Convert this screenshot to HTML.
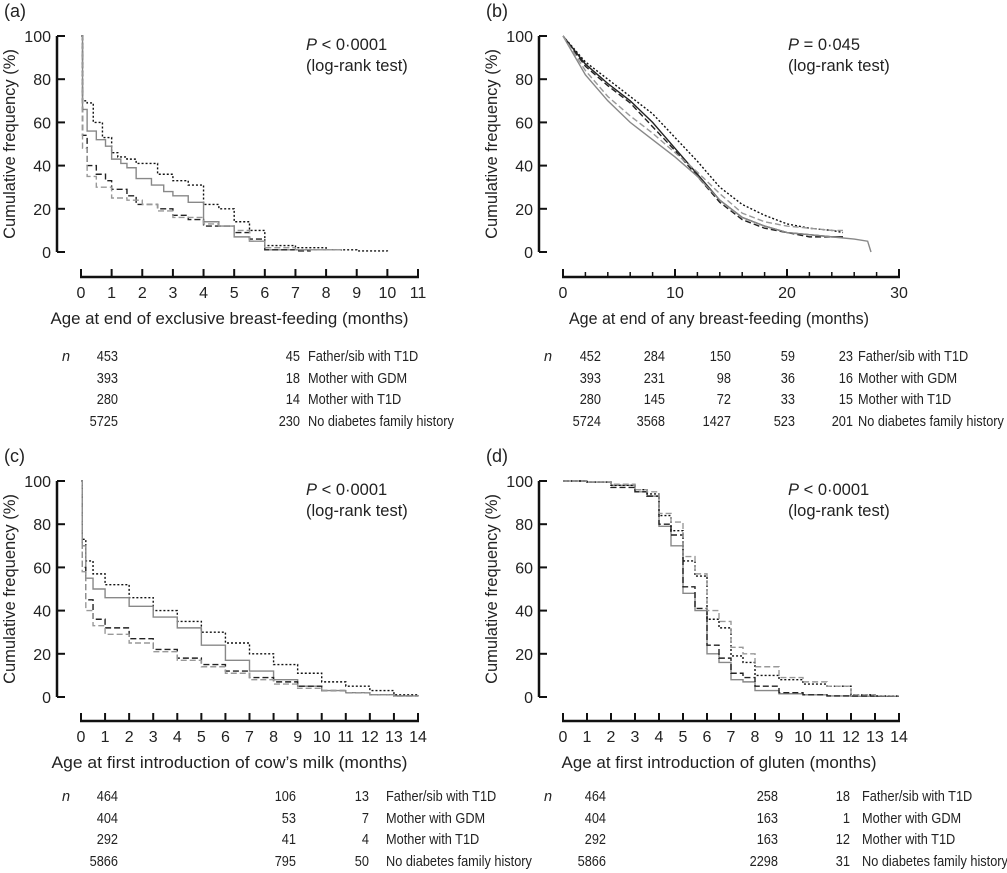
<!DOCTYPE html>
<html><head><meta charset="utf-8"><style>
body{margin:0;background:#fff;}
svg{display:block;font-family:"Liberation Sans",sans-serif;fill:#222;}
</style></head><body>
<svg id="chart" width="1007" height="873" viewBox="0 0 1007 873" xmlns="http://www.w3.org/2000/svg"></svg>
<script>
// ---- data ----
const panelLetters = ["(a)","(b)","(c)","(d)"];
const xTitles = ["Age at end of exclusive breast-feeding (months)","Age at end of any breast-feeding (months)","Age at first introduction of cow\u2019s milk (months)","Age at first introduction of gluten (months)"];
const xMax = [11,30,14,14];
const xTickLabelsA = [0,1,2,3,4,5,6,7,8,9,10,11];
const xTickLabelsB = [0,10,20,30];
const xTickLabelsCD = [0,1,2,3,4,5,6,7,8,9,10,11,12,13,14];
const yTicks = [0,20,40,60,80,100];
const pTexts = ["< 0\u00b70001","= 0\u00b7045","< 0\u00b70001","< 0\u00b70001"];
const groupNames = ["Father/sib with T1D","Mother with GDM","Mother with T1D","No diabetes family history"];
const riskA = [[453,45],[393,18],[280,14],[5725,230]];
const riskB = [[452,284,150,59,23],[393,231,98,36,16],[280,145,72,33,15],[5724,3568,1427,523,201]];
const riskC = [[464,106,13],[404,53,7],[292,41,4],[5866,795,50]];
const riskD = [[464,258,18],[404,163,1],[292,163,12],[5866,2298,31]];
// step series: times, values (panel a)
const aDottedT=[0,0.05,0.2,0.4,0.7,1.0,1.2,1.5,1.8,2.5,3.0,3.5,4.0,4.5,5.0,5.5,6.0,7,8,9,10];
const aDottedV=[100,70,69,60,53,46,44,43,41,36,33,31,22,20,14,10,3,2,1,0.5,0.3];
const aSolidT=[0,0.05,0.2,0.5,0.8,1.0,1.3,1.5,1.8,2.3,2.7,3,3.5,4,4.5,5,5.5,6,8.5];
const aSolidV=[100,66,56,52,49,43,41,39,34,31,28,26,23,14,12,7,5,1,0.5];
const aDashBT=[0,0.05,0.2,0.5,0.8,1.0,1.5,1.8,2.5,3,3.5,4,5,5.5,6,7];
const aDashBV=[100,54,40,36,33,29,26,22,20,17,15,12,9,6,1,0.5];
const aDashGT=[0,0.05,0.2,0.5,1,1.5,2,2.5,3,4,4.5,5,5.5,6,7,8.5];
const aDashGV=[100,48,35,30,25,24,22,19,16,13,12,10,5,2,1,0.5];
// panel b (curves)
const bDottedT=[0,2,4,6,8,10,12,14,16,18,20,22,24,25];
const bDottedV=[100,88,80,72,64,53,42,30,22,17,13,11,10,9];
const bSolidBT=[0,2,4,6,8,10,12,14,16,18,20,22,24,25];
const bSolidBV=[100,87,78,70,60,48,36,24,16,12,9,8,7,7];
const bDashBT=[0,2,4,6,8,10,12,14,16,18,20,22,24];
const bDashBV=[100,86,77,69,58,47,35,23,15,11,9,7,7];
const bSolidGT=[0,2,4,6,8,10,12,14,16,18,20,22,24,26,27.2,27.5];
const bSolidGV=[100,82,70,60,52,44,35,24,16,12,9,8,7,6,5,0];
const bDashGT=[0,2,4,6,8,10,12,14,16,18,20,22,24,25];
const bDashGV=[100,84,72,63,55,46,37,27,18,14,12,11,10,10];
// panel c
const cT=[0,0.05,0.2,0.5,1,2,3,4,5,6,7,8,9,10,11,12,13,14];
const cDottedV=[100,73,63,57,52,46,40,35,30,25,20,15,11,7,5,3,1,0.5];
const cSolidV=[100,70,55,50,46,42,37,32,24,17,12,8,5,3,2,1,0.5,0.3];
const cDashBV=[100,60,45,36,32,27,22,18,15,12,9,7,5,3,2,1,0.5,0.3];
const cDashGV=[100,58,40,33,29,25,21,17,14,11,8,6,4,3,2,1,0.5,0.3];
// panel d
const dT=[0,1,2,3,3.5,4,4.5,5,5.5,6,6.5,7,7.5,8,9,10,11,12,13,14];
const dSolidV=[100,99.5,98,95,93,79,70,48,40,20,16,8,7,3,1.5,1,0.5,0.3,0.3,0.3];
const dDashBV=[100,99.5,97,95,93,80,75,51,41,24,18,11,9,5,2,1,0.5,0.5,0.3,0.3];
const dDottedV=[100,99.5,98,96,94,84,77,63,56,36,32,19,16,10,8,6,5,1,0.5,0.5];
const dDashGV=[100,99.5,98.5,96,95,85,81,65,57,40,35,23,20,14,9,7,5,1,0.5,0.5];

// ---- drawing ----
const NS="http://www.w3.org/2000/svg";
const svg=document.getElementById('chart');
function el(tag,attrs,parent){const e=document.createElementNS(NS,tag);for(const k in attrs)e.setAttribute(k,attrs[k]);(parent||svg).appendChild(e);return e;}
function txt(str,x,y,size,anchor,parent,extra){const t=el('text',Object.assign({x:x,y:y,'font-size':size,'text-anchor':anchor||'start'},extra||{}),parent);t.textContent=str;return t;}
const styles={
 dotted:{stroke:'#111','stroke-dasharray':'2,2','stroke-width':1.4},
 solidB:{stroke:'#222','stroke-width':1.4},
 solidG:{stroke:'#888','stroke-width':1.4},
 dashB:{stroke:'#222','stroke-dasharray':'6,3','stroke-width':1.4},
 dashG:{stroke:'#999','stroke-dasharray':'6,3','stroke-width':1.4}
};
const layouts=[
 {ax:57,x0:81,x1:418,y100:36,y0:252,xl:277,ox:0,oy:0,ty:0},
 {ax:539,x0:563,x1:899,y100:36,y0:252,xl:277,ox:482,oy:0,ty:0},
 {ax:57,x0:81,x1:418,y100:481,y0:697,xl:721,ox:0,oy:445,ty:440},
 {ax:539,x0:563,x1:899,y100:481,y0:697,xl:721,ox:482,oy:445,ty:440}
];
const xTickSets=[xTickLabelsA,xTickLabelsB,xTickLabelsCD,xTickLabelsCD];
const titleW=[358,300,356,315];
function drawPanel(i,series,risk,riskCols,labelX){
 const L=layouts[i];
 const g=el('g',{});
 
 
 const sx=v=>L.x0+(L.x1-L.x0)*v/xMax[i];
 const sy=v=>L.y0+(L.y100-L.y0)*v/100;
 const lt=txt(panelLetters[i],L.ox+4,L.oy+17,18,'start',g);
 
 
 const ya=el('line',{x1:L.ax,y1:sy(100),x2:L.ax,y2:sy(0),stroke:'#111','stroke-width':2.5},g);
 
 
 yTicks.forEach(v=>{el('line',{x1:L.ax,y1:sy(v),x2:L.ax+8,y2:sy(v),stroke:'#111','stroke-width':2},g);
  const t=txt(v,L.ax-6,sy(v)+6,16,'end',g);
  
  });
 const yt=txt('Cumulative frequency (%)',0,0,16.5,'middle',g,{transform:`translate(${L.ox+15},${(sy(100)+sy(0))/2}) rotate(-90)`});
 
 
 const xa=el('line',{x1:L.x0-1,y1:L.xl,x2:L.x1+1,y2:L.xl,stroke:'#111','stroke-width':2.5},g);
 
 
 const ticks=xTickSets[i];
 ticks.forEach(v=>{el('line',{x1:sx(v),y1:L.xl,x2:sx(v),y2:L.xl-8,stroke:'#111','stroke-width':2},g);
  const t=txt(v,sx(v),L.xl+21,16,'middle',g);
  
  });
 if(i===1){for(let v=0;v<=30;v+=2){if(v%10)el('line',{x1:sx(v),y1:L.xl,x2:sx(v),y2:L.xl-5,stroke:'#111','stroke-width':1.5},g);}}
 const xt=txt(xTitles[i],(L.x0+L.x1)/2-(i%2?12:20),L.xl+47,16.5,'middle',g,{textLength:titleW[i],lengthAdjust:'spacingAndGlyphs'});
 
 
 const px=L.x0+225, py=sy(100)+14;
 const pt=el('text',{x:px,y:py,'font-size':16.5},g);
 pt.innerHTML='<tspan font-style="italic">P</tspan> '+pTexts[i];
 
 
 const lr=txt('(log-rank test)',px,py+21,16.5,'start',g);
 
 
 series.forEach(s=>{
  let d='';
  s.t.forEach((t,k)=>{
   if(k===0)d+=`M${sx(t)},${sy(s.v[k])}`;
   else if(s.step)d+=`H${sx(t)}V${sy(s.v[k])}`;
   else d+=`L${sx(t)},${sy(s.v[k])}`;
  });
  if(s.step&&s.end!==undefined)d+=`H${sx(s.end)}`;
  const p=el('path',Object.assign({d:d,fill:'none'},styles[s.style]),g);
  
  
 });
 const rows=[L.ty+361,L.ty+383,L.ty+404,L.ty+426];
 const nt=txt('n',L.ox+62,rows[0],14.5,'start',g,{'font-style':'italic'});
 
 
 risk.forEach((r,ri)=>{
  r.forEach((v,ci)=>{const t=txt(v,riskCols[ci],rows[ri],14.5,'end',g,{transform:`translate(${riskCols[ci]*0.12},0) scale(0.88,1)`});
   
   });
  const gl=txt(groupNames[ri],labelX,rows[ri],14.5,'start',g,{transform:`translate(${labelX*0.12},0) scale(0.88,1)`});
  
  
 });
}
drawPanel(0,[
 {name:'mother-gdm',style:'dotted',t:aDottedT,v:aDottedV,step:true,end:10},
 {name:'mother-t1d',style:'solidG',t:aSolidT,v:aSolidV,step:true,end:8.5},
 {name:'father-sib',style:'dashB',t:aDashBT,v:aDashBV,step:true,end:7.5},
 {name:'no-history',style:'dashG',t:aDashGT,v:aDashGV,step:true,end:8.5}
],riskA,[118,300],308);
drawPanel(1,[
 {name:'mother-gdm',style:'dotted',t:bDottedT,v:bDottedV},
 {name:'father-sib',style:'solidB',t:bSolidBT,v:bSolidBV},
 {name:'no-history',style:'dashB',t:bDashBT,v:bDashBV},
 {name:'mother-t1d',style:'solidG',t:bSolidGT,v:bSolidGV},
 {name:'gray-dashed',style:'dashG',t:bDashGT,v:bDashGV}
],riskB,[601,665,731,795,853],858);
drawPanel(2,[
 {name:'mother-gdm',style:'dotted',t:cT,v:cDottedV,step:true},
 {name:'mother-t1d',style:'solidG',t:cT,v:cSolidV,step:true},
 {name:'father-sib',style:'dashB',t:cT,v:cDashBV,step:true},
 {name:'no-history',style:'dashG',t:cT,v:cDashGV,step:true}
],riskC,[118,296,369],386);
drawPanel(3,[
 {name:'mother-t1d',style:'solidG',t:dT,v:dSolidV,step:true},
 {name:'father-sib',style:'dashB',t:dT,v:dDashBV,step:true},
 {name:'mother-gdm',style:'dotted',t:dT,v:dDottedV,step:true},
 {name:'no-history',style:'dashG',t:dT,v:dDashGV,step:true}
],riskD,[606,778,850],862);
</script>
</body></html>
